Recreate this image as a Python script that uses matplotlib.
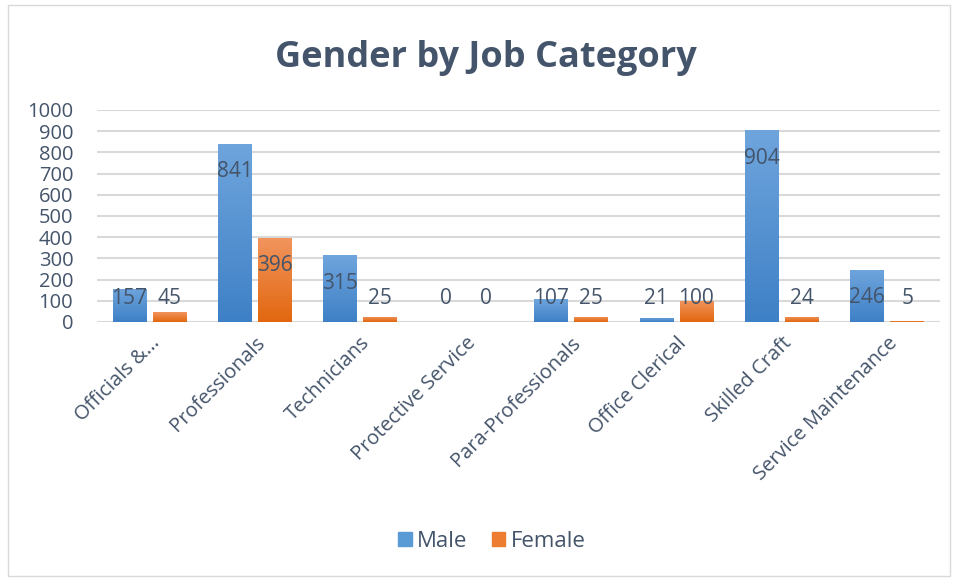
import matplotlib.pyplot as plt
import matplotlib.patches as mpatches
import numpy as np
from matplotlib.colors import LinearSegmentedColormap

plt.rcParams['font.family'] = ['Open Sans', 'DejaVu Sans']

categories = ['Officials &...', 'Professionals', 'Technicians', 'Protective Service',
              'Para-Professionals', 'Office Clerical', 'Skilled Craft', 'Service Maintenance']
male = [157, 841, 315, 0, 107, 21, 904, 246]
female = [45, 396, 25, 0, 25, 100, 24, 5]
yticks = [0, 100, 200, 300, 400, 500, 600, 700, 800, 900, 1000]

text_col = '#44546A'
male_cmap = LinearSegmentedColormap.from_list('m', ['#3E80C6', '#6FA5DD'])
female_cmap = LinearSegmentedColormap.from_list('f', ['#E2670F', '#F1955E'])

fig = plt.figure(figsize=(9.59, 5.79), dpi=100)
ax = fig.add_axes([0.101, 0.4439, 0.879, 0.3663])

# light frame round the chart
fig.patches.append(mpatches.Rectangle((0.008, 0.005), 0.983, 0.987, transform=fig.transFigure,
                                      fill=False, edgecolor='#D9D9D9', linewidth=1))

x = np.arange(len(categories))
w = 0.32
off = 0.19
grad = np.linspace(0, 1, 256).reshape(-1, 1)


def gradient_bars(bars, cmap):
    for b in bars:
        h = b.get_height()
        if h <= 0:
            continue
        b.set_facecolor('none')
        im = ax.imshow(grad, cmap=cmap, aspect='auto', origin='lower',
                       extent=[b.get_x(), b.get_x() + b.get_width(), 0, h], zorder=2)
        im.set_clip_path(b)


mb = ax.bar(x - off, male, w, color='#5B9BD5', zorder=2, linewidth=0)
fb = ax.bar(x + off, female, w, color='#ED7D31', zorder=2, linewidth=0)
gradient_bars(mb, male_cmap)
gradient_bars(fb, female_cmap)

# data labels, inside end, kept above the axis
for xs, vals in ((x - off, male), (x + off, female)):
    for xi, v in zip(xs, vals):
        ax.text(xi, max(v - 132, 113), str(v), ha='center', va='center',
                fontsize=15, color=text_col, zorder=4)

ax.set_xlim(-0.5, len(categories) - 0.5)
ax.set_ylim(0, 1000)
ax.set_yticks(yticks)
ax.set_xticks(x)
ax.set_xticklabels(categories, rotation=45, ha='right', rotation_mode='anchor')
ax.tick_params(axis='both', length=0, labelsize=14.5, colors=text_col)
ax.tick_params(axis='x', pad=8)
ax.tick_params(axis='y', pad=17)
ax.grid(axis='y', color='#D9D9D9', linewidth=1.5, zorder=0)
ax.set_axisbelow(True)
for s in ax.spines.values():
    s.set_visible(False)

fig.text(0.507, 0.9, 'Gender by Job Category', ha='center', va='center',
         fontsize=26, fontweight='bold', color=text_col)

handles = [mpatches.Patch(color='#5B9BD5', label='Male'),
           mpatches.Patch(color='#ED7D31', label='Female')]
fig.legend(handles=handles, loc='center', bbox_to_anchor=(0.513, 0.065), ncol=2,
           frameon=False, fontsize=16, handlelength=0.6, handleheight=0.6,
           handletextpad=0.25, columnspacing=1.1, labelcolor=text_col)

fig.savefig('out.png', dpi=100)
